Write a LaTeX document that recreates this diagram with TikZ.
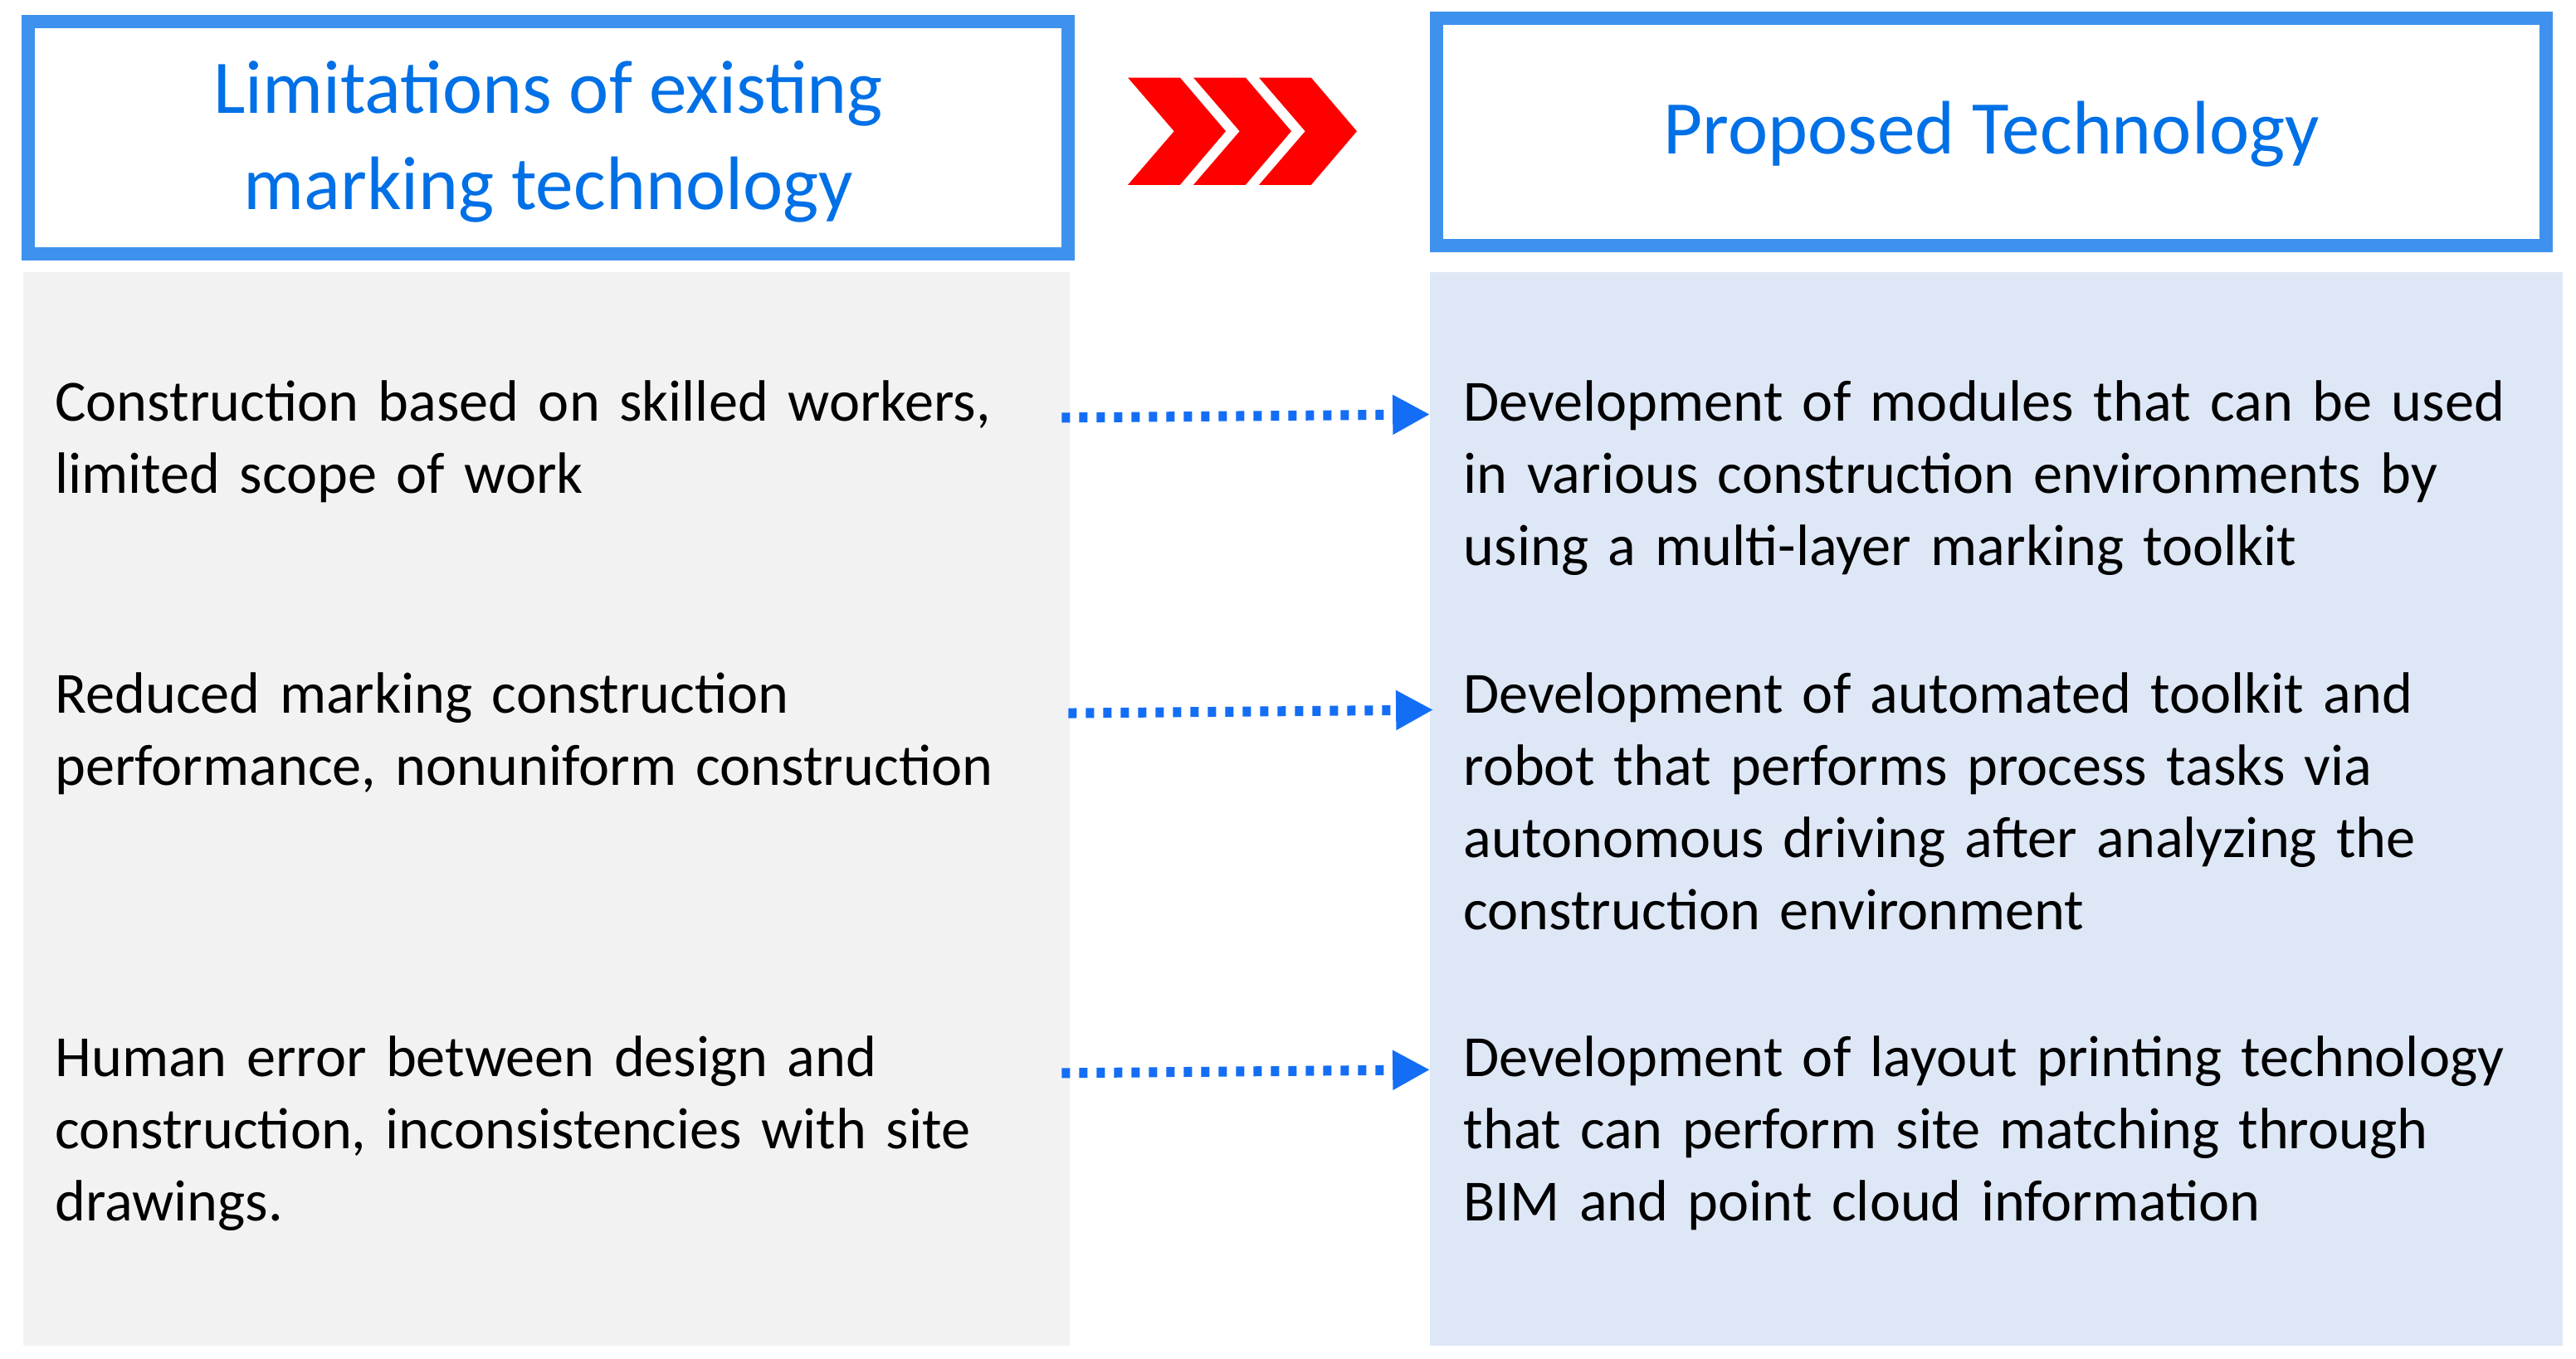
\documentclass[tikz,border=0pt]{standalone}
\usepackage{fontspec}
\setmainfont{Carlito}
\usetikzlibrary{arrows.meta, positioning}
\definecolor{frameblue}{RGB}{62,146,238}
\definecolor{titleblue}{RGB}{0,112,230}
\definecolor{panelgrey}{RGB}{242,242,242}
\definecolor{panelblue}{RGB}{222,231,246}
\definecolor{dotblue}{RGB}{20,110,245}

\begin{document}
\begin{tikzpicture}[
    x=0.199mm, y=-0.199mm,
    header/.style={draw=frameblue, line width=1.6mm, fill=white},
    title/.style={text=titleblue, font=\fontsize{26}{33}\selectfont, align=center},
    item/.style={anchor=north west, inner sep=0pt, align=left,
        font=\fontsize{20}{24.8}\selectfont, text width=#1},
    link/.style={dotblue, line width=1.2mm, dash pattern=on 1mm off 1.1mm,
        -{Triangle[length=4.5mm, width=4.5mm]}},
    chevron/.style={fill=red, draw=none}
]
\useasboundingbox (0,0) rectangle (1560,823);

% panels
\fill[panelgrey] (14,165) rectangle (648,815);
\fill[panelblue] (866,165) rectangle (1552,815);

% headers
\draw[header] (17,13) rectangle (647,154);
\draw[header] (870,11) rectangle (1542,149);
\node[title] (limits) at (332,86) {Limitations of existing\\marking technology};
\node[title] (proposed) at (1206,81) {Proposed Technology};

% chevrons
\foreach \s in {0,1,2}
    \fill[chevron, shift={(\s*39.7,0)}] (683,47) -- (714.6,47) -- (742.3,79.5)
        -- (714.6,112) -- (683,112) -- (711,79.5) -- cycle;

% limitations
\node[item=128mm] (lim1) at (33,230) {Construction based on skilled workers,\\limited scope of work};
\node[item=128mm] (lim2) at (33,407) {Reduced marking construction\\performance, nonuniform construction};
\node[item=128mm] (lim3) at (33,627) {Human error between design and\\construction, inconsistencies with site\\drawings.};

% proposals
\node[item=134mm] (pro1) at (886,230) {Development of modules that can be used\\in various construction environments by\\using a multi-layer marking toolkit};
\node[item=134mm] (pro2) at (886,407) {Development of automated toolkit and\\robot that performs process tasks via\\autonomous driving after analyzing the\\construction environment};
\node[item=134mm] (pro3) at (886,627) {Development of layout printing technology\\that can perform site matching through\\BIM and point cloud information};

% links
\coordinate (a1) at (643,253); \coordinate (b1) at (866,251);
\coordinate (a2) at (647,432); \coordinate (b2) at (868,430);
\coordinate (a3) at (643,650); \coordinate (b3) at (866,648);
\draw[link] (a1) -- (b1);
\draw[link] (a2) -- (b2);
\draw[link] (a3) -- (b3);

\end{tikzpicture}
\end{document}
